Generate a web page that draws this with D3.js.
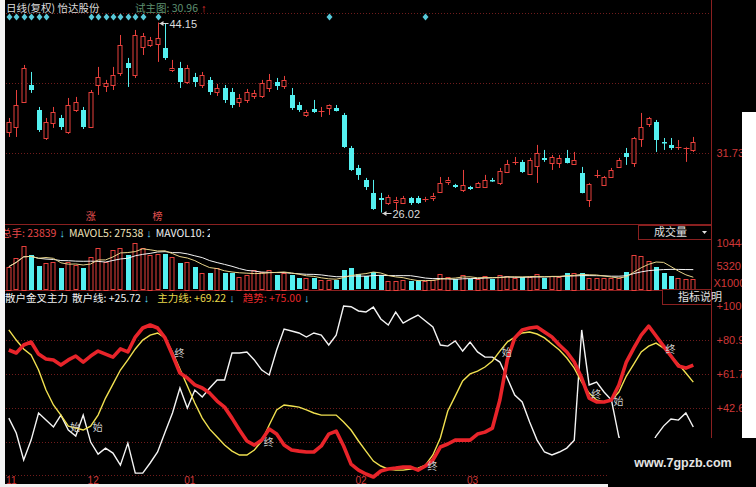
<!DOCTYPE html>
<html><head><meta charset="utf-8">
<script src="https://cdn.jsdelivr.net/npm/d3@7"></script>
<style>
body{margin:0;background:#000;}
svg{display:block;}
text{font-family:"Liberation Sans",Arial,sans-serif;}
.cjk{font-family:"Noto Sans CJK SC","Liberation Sans",sans-serif;}
</style></head><body>
<svg id="chart" width="756" height="487"></svg>
<script>
// ---- daily bars (复权) ----
const openP  = [33.71,34.18,36.57,38.19,35.81,33.13,34.57,35.04,33.71,35.81,35.81,34.18,38.19,38.10,38.19,39.34,40.29,39.15,41.82,42.01,42.10,41.72,39.62,39.81,38.48,38.95,38.19,38.67,37.52,37.90,37.52,36.57,36.76,37.14,37.14,37.90,38.48,38.10,37.24,36.28,35.33,35.90,35.62,36.00,36.00,35.33,32.18,30.27,29.13,27.89,27.41,26.93,27.03,26.93,27.41,27.41,27.22,27.41,27.98,28.94,28.65,28.17,28.46,28.46,28.46,29.13,28.84,29.89,30.80,30.85,29.70,30.46,31.23,30.75,30.75,31.23,30.65,29.80,27.22,29.56,28.65,29.41,30.37,31.70,30.75,33.04,34.47,34.66,32.70,32.47,32.25,32.16,31.99];
const highP  = [35.04,37.71,40.10,39.43,36.09,35.04,36.09,35.33,36.95,37.05,36.09,37.71,39.91,38.67,39.91,42.96,40.77,43.44,43.15,42.77,44.15,44.01,40.58,40.39,40.10,39.34,39.43,38.95,38.29,38.19,37.90,37.33,37.81,37.71,38.67,39.24,38.86,39.05,37.90,36.57,35.81,36.76,36.09,36.33,36.28,35.52,32.37,30.56,29.32,29.13,27.89,27.70,27.51,27.60,27.51,27.60,27.51,27.89,29.41,29.41,28.75,30.08,28.56,28.94,29.61,29.32,30.27,31.04,31.32,31.04,31.23,32.47,31.99,31.51,31.51,31.99,31.80,30.37,28.84,30.08,29.51,30.27,31.23,32.18,33.23,35.52,35.14,34.85,33.13,33.13,32.94,32.28,33.23];
const lowP   = [33.23,33.23,36.47,37.43,33.71,32.94,34.09,33.90,33.52,35.62,33.99,34.09,37.24,37.52,37.71,39.05,38.00,38.86,41.05,41.82,40.39,40.58,39.43,37.90,38.29,38.00,37.90,37.24,37.14,36.47,36.00,36.09,36.47,36.86,36.95,37.52,37.71,37.81,35.81,35.62,35.14,35.52,35.14,35.33,35.66,32.18,29.99,29.13,28.17,26.27,26.02,26.74,26.27,26.84,26.74,26.84,27.03,27.12,27.95,28.65,28.36,27.98,28.17,28.36,28.36,28.94,28.65,29.80,30.56,29.80,29.61,28.84,30.85,30.08,30.27,30.70,30.56,27.85,26.55,29.32,28.56,29.32,30.27,30.56,30.37,32.28,34.18,31.80,31.99,31.99,31.99,30.85,31.80];
const closeP = [34.66,36.28,39.81,37.71,33.90,34.66,35.62,34.18,36.28,36.57,34.18,37.52,38.95,38.38,39.15,42.01,39.81,42.96,42.87,42.48,42.67,40.77,39.81,38.48,39.81,38.48,39.15,37.52,37.90,36.76,36.28,36.95,37.52,37.43,38.38,38.67,38.10,38.67,36.00,35.81,35.62,35.62,35.71,36.28,35.71,32.28,30.08,29.61,28.46,26.36,27.22,27.51,27.22,27.41,26.93,26.93,27.32,27.60,28.84,29.13,28.46,28.65,28.27,28.84,29.13,29.08,29.99,30.65,30.85,29.89,31.04,31.70,31.08,31.32,31.23,30.75,31.04,27.89,28.75,29.61,29.41,30.08,31.04,31.32,33.13,34.18,35.04,32.94,32.66,32.18,32.30,32.20,32.75];
// 总手 (hands)
const volume = [51200,70700,98400,77500,52800,59500,61800,48300,61800,55000,48300,73000,93900,61800,88700,93200,77500,104440,93200,77500,79700,79700,73000,59500,61800,50500,37100,37100,48300,37100,37100,28100,32600,43800,39300,43800,32600,37100,32600,25800,25800,25800,21300,21300,21300,43800,48300,34800,30300,39300,32600,20200,19100,21300,20200,19100,20200,21300,34800,28100,23600,32600,23600,23600,30300,23600,32600,30300,25800,28100,28100,34800,25800,30300,28100,37100,37100,37100,25800,25800,25800,25800,25800,40000,77500,75200,64700,51200,36000,30000,25000,22851,23839];
// 散户金叉主力
const retailLine = [36.8,28.4,13.2,24.4,39.7,35.7,31.8,38.5,30.1,26.7,38.5,23.3,16.5,19.9,17.1,10.3,22.7,5.8,5.8,11.5,17.7,28.9,39.7,53.8,42.5,52.6,48.7,53.8,58.3,58.3,73.5,73.5,74.1,69.6,63.9,61.1,75.2,87.0,85.9,84.8,82.5,84.8,83.6,78.0,83.6,100.0,99.6,97.2,96.6,99.4,92.7,89.3,96.6,90.4,92.7,94.9,91.5,88.2,78.0,77.4,80.3,74.6,79.7,74.1,71.2,71.2,68.4,59.4,49.8,45.9,34.6,24.4,17.7,16.0,17.7,19.9,24.4,86.5,55.5,57.1,51.5,47.0,26.1,16.0,10.3,13.2,18.8,26.7,32.3,36.3,35.7,39.7,31.8];
const mainLine = [86.5,80.8,75.8,72.4,63.9,52.6,44.2,38.5,32.3,31.2,30.1,32.3,38.5,48.1,56.0,63.9,69.6,75.8,80.8,83.6,84.8,82.0,74.1,64.5,54.9,45.3,36.8,30.6,26.1,21.6,18.2,16.0,16.0,18.8,23.9,32.9,41.4,44.2,43.6,43.0,41.4,39.7,38.5,38.5,38.5,34.6,30.1,23.9,18.2,12.6,9.8,8.1,7.5,7.5,8.1,8.6,10.3,16.0,25.6,40.8,49.2,57.7,61.7,63.3,65.6,69.0,74.6,79.7,82.5,84.8,85.3,84.2,82.0,78.6,75.2,70.7,65.0,57.1,50.9,47.0,45.9,47.0,51.5,60.5,67.3,74.1,77.4,79.1,76.3,71.8,67.3,62.2,57.1];
const trendLine = [75.2,73.5,78.0,79.7,72.9,70.1,69.6,66.7,69.6,71.8,68.4,71.8,74.6,72.9,71.2,75.8,74.1,82.5,87.6,89.3,87.6,82.0,72.4,62.2,59.4,55.5,53.8,50.9,46.4,43.0,36.8,30.1,23.9,21.6,24.4,30.6,27.8,21.6,18.8,18.2,17.7,17.7,21.1,27.8,29.5,21.1,10.9,7.5,5.3,3.6,7.0,8.1,8.6,9.2,9.2,7.5,9.8,13.2,20.5,22.2,24.4,24.4,24.4,27.8,28.9,31.2,47.0,69.6,82.0,86.5,87.6,88.2,85.3,82.5,78.0,74.1,68.4,59.4,48.1,45.9,45.9,47.0,55.5,68.4,76.3,83.6,88.7,83.1,77.4,71.8,66.2,65.0,66.7];

const monthTickIdx  = [0, 11, 24, 47, 62];
const monthTickText = ["11", "12", "01", "02", "03"];
const priceGridTicks = [45.07, 38.40, 31.73];
const priceLabelTicks = [31.73];
const volTicks = [104440, 53200];
const indTicks = [100.0, 80.90, 61.79, 42.69, 23.58, 4.48];
const signalIdx = [0,1,2,3,4,5,11,12,13,14,15,16,17,18,20,43,56];
const newsIdx = [11, 20];
const newsText = ["涨", "榜"];
const markIdx  = [8, 11, 22, 34, 56, 66, 78, 81, 88];
const markText = ["始","始","终","终","终","始","终","始","终"];

const headerPrice = {name: "日线(复权)  怡达股份", label: "试主图: ", value: "30.96"};
const mavol10Text = "29465";
const headerInd = [["散户线: +25.72", "#f0f0f0"], ["主力线: +69.22", "#e8d84a"], ["趋势: +75.00", "#e8282a"]];

// ---- layout ----
const W = 756, H = 487, RIGHT = 711.5;
const UP = "#e8403c", DOWN = "#54f0f0", GRID = "#701c1c", AXIS = "#d03838";
const svg = d3.select("#chart");
svg.append("rect").attr("width", W).attr("height", H).attr("fill", "#000");

const N = closeP.length;
const x = d3.scalePoint().domain(d3.range(N)).range([8.8, 693.3]);
const px = i => Math.round(x(i)) + 0.5;
const yP = d3.scaleLinear().domain([d3.min(lowP), d3.max(highP)]).range([212.5, 22.5]);
const yV = d3.scaleLinear().domain([0, d3.max(volume)]).range([289.5, 243]);
const yI = d3.scaleLinear().domain([0, 100]).range([483.4, 306]);

// ---- grids & frames ----
const g = svg.append("g");
g.selectAll(".pg").data(priceGridTicks).join("line")
  .attr("x1", 0).attr("x2", RIGHT).attr("y1", d => Math.round(yP(d)) + 0.5).attr("y2", d => Math.round(yP(d)) + 0.5)
  .attr("stroke", GRID).attr("stroke-dasharray", "1,2");
g.selectAll(".ig").data(indTicks.slice(1)).join("line")
  .attr("x1", 0).attr("x2", RIGHT).attr("y1", d => Math.round(yI(d)) + 0.5).attr("y2", d => Math.round(yI(d)) + 0.5)
  .attr("stroke", GRID).attr("stroke-dasharray", "1,2");
g.append("line").attr("x1", 0).attr("x2", RIGHT).attr("y1", 224.5).attr("y2", 224.5).attr("stroke", "#8a2020");
g.append("line").attr("x1", 0).attr("x2", RIGHT).attr("y1", 290.5).attr("y2", 290.5).attr("stroke", "#8a2020");
g.append("line").attr("x1", RIGHT).attr("x2", RIGHT).attr("y1", 0).attr("y2", H).attr("stroke", "#8a2020");

// ---- candles ----
const cw = 5;
const candles = svg.append("g").selectAll("g").data(d3.range(N)).join("g");
candles.each(function(i) {
  const s = d3.select(this);
  const up = closeP[i] >= openP[i];
  const col = up ? UP : DOWN;
  const top = yP(Math.max(openP[i], closeP[i])), bot = yP(Math.min(openP[i], closeP[i]));
  const cx = px(i);
  if (up) {
    s.append("line").attr("x1", cx).attr("x2", cx).attr("y1", yP(highP[i])).attr("y2", top).attr("stroke", col);
    s.append("line").attr("x1", cx).attr("x2", cx).attr("y1", bot).attr("y2", yP(lowP[i])).attr("stroke", col);
    if (bot - top < 1.5) {
      s.append("line").attr("x1", cx - 3).attr("x2", cx + 3).attr("y1", Math.round(top) + 0.5).attr("y2", Math.round(top) + 0.5).attr("stroke", col);
    } else {
      s.append("rect").attr("x", cx - 2.5).attr("y", Math.round(top) + 0.5).attr("width", cw - 1)
        .attr("height", Math.max(1, Math.round(bot - top))).attr("fill", "#000").attr("stroke", col);
    }
  } else {
    s.append("line").attr("x1", cx).attr("x2", cx).attr("y1", yP(highP[i])).attr("y2", yP(lowP[i])).attr("stroke", col);
    s.append("rect").attr("x", cx - 2.5).attr("y", Math.round(top)).attr("width", cw)
      .attr("height", Math.max(1.5, Math.round(bot - top))).attr("fill", col);
  }
});

// high / low markers
const hiIdx = d3.maxIndex(highP), loIdx = d3.minIndex(lowP);
function extremeMark(i, v) {
  const cx = px(i), yy = Math.round(yP(v)) + 0.5;
  svg.append("line").attr("x1", cx + 1).attr("x2", cx + 10).attr("y1", yy).attr("y2", yy).attr("stroke", "#d8d8d8");
  svg.append("path").attr("d", `M${cx + 1},${yy} l4,-2.5 v5 z`).attr("fill", "#d8d8d8");
  svg.append("text").attr("x", cx + 11).attr("y", yy + 4).attr("fill", "#dcdcdc").attr("font-size", 11).text(v.toFixed(2));
}
extremeMark(hiIdx, highP[hiIdx]);
extremeMark(loIdx, lowP[loIdx]);

// signal diamonds
svg.append("g").selectAll("path").data(signalIdx).join("path")
  .attr("d", i => `M${px(i)},13.5 l3,3.5 l-3,3.5 l-3,-3.5 z`).attr("fill", "#58c8d8");

// info markers
svg.append("g").selectAll("text").data(newsIdx).join("text").attr("class", "cjk")
  .attr("x", i => x(i)).attr("y", 220).attr("text-anchor", "middle").attr("font-size", 10)
  .attr("fill", "#e05050").text((d, k) => newsText[k]);

// ---- volume ----
const vg = svg.append("g");
vg.selectAll("rect").data(d3.range(N)).join("rect")
  .attr("x", i => px(i) - 2.5)
  .attr("y", i => Math.round(yV(volume[i])) + (closeP[i] >= openP[i] ? 0.5 : 0))
  .attr("width", i => closeP[i] >= openP[i] ? cw - 1 : cw)
  .attr("height", i => Math.round(yV(0) - yV(volume[i])))
  .attr("fill", i => closeP[i] >= openP[i] ? "none" : DOWN)
  .attr("stroke", i => closeP[i] >= openP[i] ? UP : "none");
const ma = n => volume.map((v, i) => d3.mean(volume.slice(Math.max(0, i - n + 1), i + 1)));
const ma5 = ma(5), ma10 = ma(10);
const vline = d3.line().x((d, i) => x(i)).y(d => yV(d));
vg.append("path").attr("d", vline(ma10)).attr("fill", "none").attr("stroke", "#f4f4f4").attr("stroke-width", 1);
vg.append("path").attr("d", vline(ma5)).attr("fill", "none").attr("stroke", "#e8d48a").attr("stroke-width", 1);

// ---- indicator ----
const ig = svg.append("g");
const iline = d3.line().x((d, i) => x(i)).y(d => yI(d));
ig.append("path").attr("d", iline(retailLine)).attr("fill", "none").attr("stroke", "#f4f4f4").attr("stroke-width", 1.4);
ig.append("path").attr("d", iline(mainLine)).attr("fill", "none").attr("stroke", "#f0e050").attr("stroke-width", 1.4);
ig.append("path").attr("d", iline(trendLine)).attr("fill", "none").attr("stroke", "#e8242a").attr("stroke-width", 3.6).attr("stroke-linejoin", "round");
ig.selectAll("text").data(markIdx).join("text").attr("class", "cjk")
  .attr("x", i => x(i) + 2).attr("y", i => yI(mainLine[i]) + 5).attr("font-size", 10)
  .attr("fill", "#d0d0d0").text((d, k) => markText[k]);

// ---- right axes ----
const axP = svg.append("g").attr("transform", `translate(${RIGHT + 2},0)`)
  .call(d3.axisRight(yP).tickValues(priceLabelTicks).tickSize(0).tickFormat(d3.format(".2f")));
const axV = svg.append("g").attr("transform", `translate(${RIGHT + 2},0)`)
  .call(d3.axisRight(yV).tickValues(volTicks).tickSize(0).tickFormat(d => Math.round(d / 10)));
const axI = svg.append("g").attr("transform", `translate(${RIGHT + 2},0)`)
  .call(d3.axisRight(yI).tickValues(indTicks.slice(0, 5)).tickSize(0).tickFormat(d3.format("+.4r")));
[axP, axV, axI].forEach(a => {
  a.select(".domain").remove();
  a.selectAll("text").attr("fill", AXIS).attr("font-size", 11).attr("font-family", "Liberation Sans, Arial, sans-serif");
});
svg.append("text").attr("x", RIGHT + 2).attr("y", 287).attr("fill", AXIS).attr("font-size", 11).text("X1000");

// bottom month axis
const axX = svg.append("g").attr("transform", "translate(0,474)")
  .call(d3.axisBottom(x).tickValues(monthTickIdx).tickSize(0).tickFormat((d, k) => monthTickText[k]));
axX.select(".domain").remove();
axX.selectAll("text").attr("fill", AXIS).attr("font-size", 10).attr("dx", 2);

// ---- boxes ----
function box(x0, y0, w, h, label) {
  svg.append("rect").attr("x", x0 + 0.5).attr("y", y0 + 0.5).attr("width", w).attr("height", h)
    .attr("fill", "#000").attr("stroke", "#8a2020");
  svg.append("text").attr("class", "cjk").attr("x", x0 + 16).attr("y", y0 + h - 3).attr("fill", "#e0e0e0")
    .attr("font-size", 11).text(label);
}
box(638, 225, 73, 14, "成交量");
svg.append("path").attr("d", "M702,231 l5,0 l-2.5,3 z").attr("fill", "#e0e0e0");
box(662, 289, 49, 15, "指标说明");

// ---- headers ----
function arrow(parent, cx, y, dir) {
  return parent.append("text").attr("x", cx).attr("y", y).attr("fill", dir === "up" ? "#e03030" : "#58d8f0")
    .attr("font-size", 11).attr("font-weight", "bold").attr("font-family", "DejaVu Sans").text(dir === "up" ? "↑" : "↓");
}
svg.append("text").attr("class", "cjk").attr("x", 6).attr("y", 12).attr("fill", "#dcdcdc").attr("font-size", 10.5).text(headerPrice.name);
const tp = svg.append("text").attr("class", "cjk").attr("x", 135).attr("y", 12).attr("fill", "#5e9070").attr("font-size", 10.5)
  .text(headerPrice.label + headerPrice.value);
arrow(svg, 135 + tp.node().getComputedTextLength() + 3, 12, "up");

svg.append("clipPath").attr("id", "vh").append("rect").attr("x", 0).attr("y", 226).attr("width", 210).attr("height", 14);
const vh = svg.append("g").attr("clip-path", "url(#vh)");
{
  const fmt = d3.format("d");
  const headerVol = [["总手: " + fmt(volume[N - 1]), "#e8484a"], ["MAVOL5: " + fmt(ma5[N - 1]), "#eee0b8"], ["MAVOL10: " + mavol10Text, "#f0f0f0"]];
  let cx = 1;
  headerVol.forEach(([t, c]) => {
    const tx = vh.append("text").attr("class", "cjk").attr("x", cx).attr("y", 237).attr("fill", c).attr("font-size", 10.5).text(t);
    cx += tx.node().getComputedTextLength() + 3;
    const ar = arrow(vh, cx, 237, "down");
    cx += ar.node().getComputedTextLength() + 4;
  });
}
{
  let cx = 5;
  const t0 = svg.append("text").attr("class", "cjk").attr("x", cx).attr("y", 302).attr("fill", "#f0f0f0").attr("font-size", 10.5).text("散户金叉主力");
  cx += t0.node().getComputedTextLength() + 4;
  headerInd.forEach(([t, c]) => {
    const tx = svg.append("text").attr("class", "cjk").attr("x", cx).attr("y", 302).attr("fill", c).attr("font-size", 10.5).text(t);
    cx += tx.node().getComputedTextLength() + 3;
    const ar = arrow(svg, cx, 302, "down");
    cx += ar.node().getComputedTextLength() + 8;
  });
}

// ---- page edges & site mark ----
svg.append("rect").attr("x", 0).attr("y", 0).attr("width", 5).attr("height", H).attr("fill", "#f4f4f4");
svg.append("rect").attr("x", 742).attr("y", 112).attr("width", 14).attr("height", 326).attr("fill", "#ffffff");
svg.append("rect").attr("x", 0).attr("y", 484).attr("width", 610).attr("height", 3).attr("fill", "#f0f0f0");
svg.append("rect").attr("x", 608).attr("y", 438).attr("width", 148).attr("height", 49).attr("fill", "#000");
svg.append("text").attr("x", 683).attr("y", 467).attr("text-anchor", "middle").attr("fill", "#e4e4e4")
  .attr("font-size", 12.5).attr("font-weight", "bold").text("www.7gpzb.com");
</script></body></html>
